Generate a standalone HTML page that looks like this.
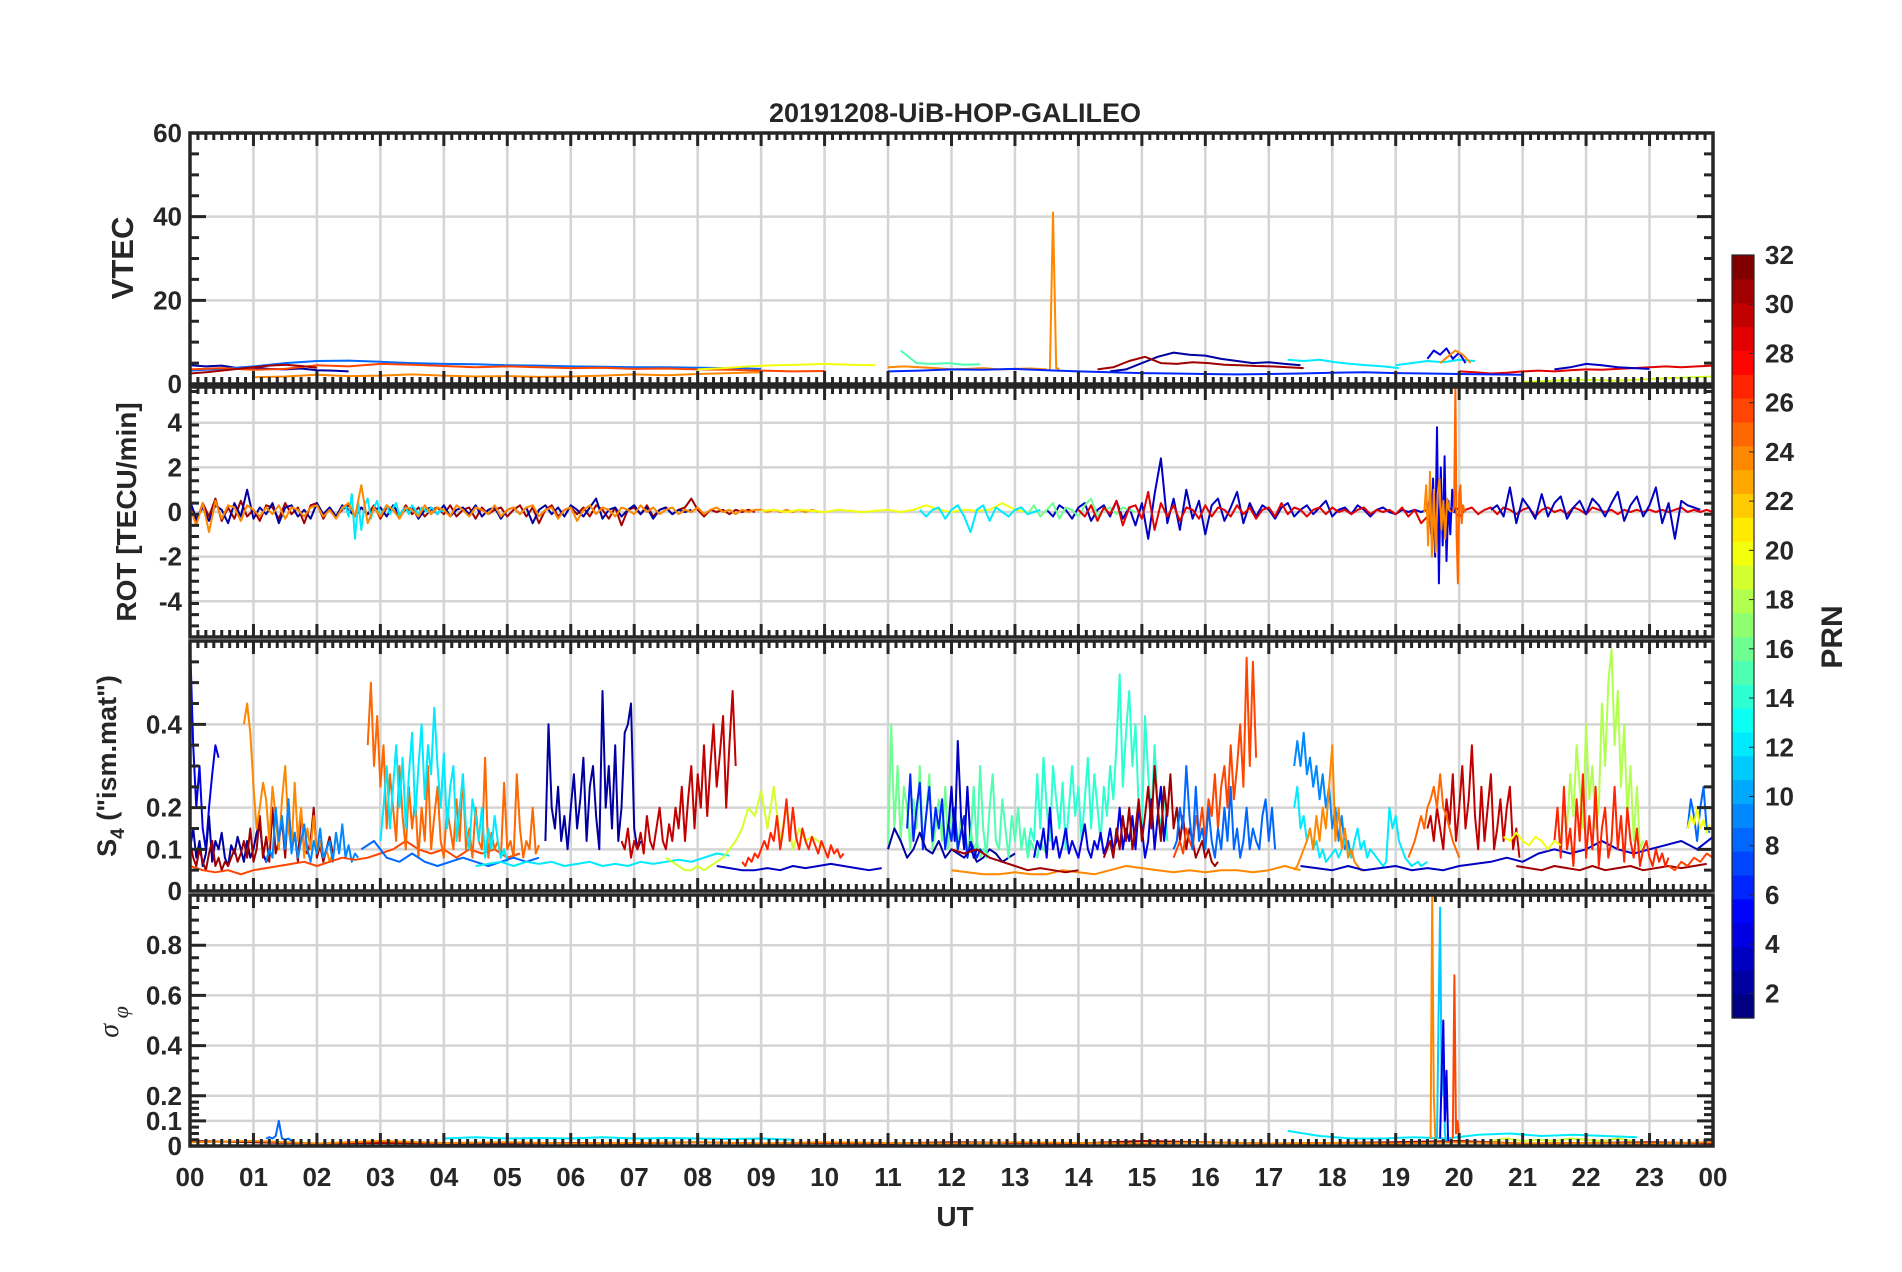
<!DOCTYPE html>
<html><head><meta charset="utf-8">
<style>
html,body{margin:0;padding:0;background:#fff;}
svg{display:block;font-family:"Liberation Sans",Arial,sans-serif;}
</style></head>
<body>
<svg id="fig" width="1902" height="1272" viewBox="0 0 1902 1272" xmlns="http://www.w3.org/2000/svg">
<text x="955" y="122" text-anchor="middle" font-size="27" font-weight="bold" fill="#262626">20191208-UiB-HOP-GALILEO</text>
<text x="955" y="1226" text-anchor="middle" font-size="28" font-weight="bold" fill="#262626">UT</text>
<text transform="translate(133,258) rotate(-90)" text-anchor="middle" font-size="31" font-weight="bold" fill="#262626">VTEC</text>
<text transform="translate(136,512) rotate(-90)" text-anchor="middle" font-size="28" font-weight="bold" fill="#262626">ROT [TECU/min]</text>
<text transform="translate(116,766) rotate(-90)" text-anchor="middle" font-size="27" font-weight="bold" fill="#262626">S<tspan font-size="19" dy="8">4</tspan><tspan dy="-8"> ("ism.mat")</tspan></text>
<text transform="translate(118,1022) rotate(-90)" text-anchor="middle" font-size="28" font-style="italic" font-family="Liberation Serif, serif" fill="#262626">σ<tspan font-size="22" dy="10"> φ</tspan></text>
<text transform="translate(1842,637) rotate(-90)" text-anchor="middle" font-size="30" font-weight="bold" fill="#262626">PRN</text>
<g id="layer"></g>
</svg>
<script>
// ---------- data ----------
const hourLabels = ["00","01","02","03","04","05","06","07","08","09","10","11","12","13","14","15","16","17","18","19","20","21","22","23","00"];
const vtecTicks = [0,20,40,60];
const rotTicks = [-4,-2,0,2,4];
const s4Ticks = [0,0.1,0.2,0.4];
const sigTicks = [0,0.1,0.2,0.4,0.6,0.8];
const cbTicks = [2,4,6,8,10,12,14,16,18,20,22,24,26,28,30,32];

// VTEC series
const vtecPrn = [2,8,26,31,24,20,15,24,24,2,31,12,12,4,24,29,3,19,6];
const vtecStart = [0,0,0,0,1,8,11.2,11,13.55,14.5,14.3,17.3,19,19.5,19.7,20,21.5,21,11];
const vtecStep = [0.25,0.5,0.5,0.25,0.5,0.4,0.25,0.25,0.05,0.25,0.25,0.25,0.25,0.1,0.12,0.25,0.25,0.5,0.5];
const vtecVals = [
[4.5,4.2,4.4,3.8,3.9,3.6,3.5,3.7,3.3,3.2,3.0],
[3.2,3.6,4.2,5.0,5.5,5.6,5.3,5.0,4.8,4.7,4.5,4.4,4.2,4.1,4.0,4.0,3.9,3.8,3.6],
[3.5,3.8,3.4,3.6,4.5,4.2,4.8,4.6,4.3,4.0,4.2,4.0,3.8,3.9,3.6,3.7,3.5,3.4,3.2,3.0,3.1],
[2.5,2.8,3.2,3.6,4.0,4.4,4.6,4.3,3.9],
[1.6,1.8,2.2,1.9,2.0,2.3,2.0,1.8,1.9,1.7,1.8,2.0,2.3,2.1,2.4,2.6,2.8],
[3.5,3.8,4.2,4.5,4.6,4.8,4.6,4.5],
[8,5,4.8,5,4.6,4.7],
[4,4.2,4.0,3.8,3.5,3.6,3.8,3.5,3.6,3.7,3.5],
[3.5,41,3.8,3.6],
[3,3.5,5,6.5,7.5,7,6.8,6,5.5,5,5.2,4.8,4.5],
[3.5,4,5.5,6.5,5,4.8,5.2,5,4.6,4.5,4.3,4.2,4.0,3.8],
[5.8,5.5,5.8,5.2,4.8,4.5,4.2,3.8],
[4.5,5,5.5,5.2,5.8,5.5],
[6,8,7,8.5,6,7.5,5],
[5,6.5,8,7,5],
[3,2.8,2.5,2.7,3.0,3.2,3.0,3.3,3.5,3.4,3.6,3.8,4.0,4.2,4.0,4.2,4.4],
[3.5,4,4.8,4.5,4,3.8,3.6],
[0.5,0.8,1.0,0.8,1.2,1.5,1.8],
[3,3.2,3.5,3.4,3.6,3.3,3.0,2.8,2.6,2.5,2.4,2.3,2.4,2.5,2.7,2.8,2.6,2.5,2.4,2.3,2.2]
];

// ROT series
const rotPrn = [31,2,12,24,3,16,29,3,20,4,24,25,12];
const rotStart = [0,0,2.4,0,13.5,13,14,20.5,9,19.5,19.45,19.9,11.5];
const rotStep = [0.1,0.1,0.05,0.1,0.1,0.1,0.1,0.1,0.2,0.03,0.03,0.02,0.1];
const rotVals = [
[0.3,-0.5,0.4,-0.2,0.6,-0.4,0.2,-0.3,0.5,-0.2,0.1,-0.4,0.3,0.2,-0.3,0.4,-0.1,0.2,-0.5,0.3,0.4,-0.3,0.2,-0.2,0.1,0.3,-0.2,0.2,-0.1,0.3,-0.3,0.2,0.1,-0.2,0.3,-0.1,0.2,-0.2,0.1,0.2,-0.1,0.3,-0.2,0.1,0.2,-0.3,0.2,-0.1,0.1,0.2,-0.2,0.1,0.3,-0.2,0.2,-0.5,0.1,0.3,-0.2,0.1,0.2,-0.1,0.2,-0.2,0.3,0.1,-0.3,0.2,-0.6,0.1,0.2,-0.1,0.3,-0.2,0.1,0.2,-0.1,0.1,0.2,0.6,0.1,-0.2,0.1,0.0,0.1,-0.1,0.1,0.0,0.1,0.0],
[0.5,-0.3,0.2,-0.4,0.3,0.1,-0.5,0.4,-0.2,1.0,-0.3,0.2,-0.1,0.4,-0.5,0.2,0.3,-0.2,0.1,-0.3,0.4,-0.1,0.2,-0.2,0.3,0.1,-0.2,0.2,-0.1,0.1,0.2,-0.2,0.3,-0.1,0.1,0.2,-0.3,0.1,0.2,-0.1,0.3,-0.2,0.1,0.2,-0.1,0.3,-0.2,0.1,0.2,-0.3,0.1,0.2,-0.1,0.2,-0.5,0.1,0.3,-0.1,0.2,-0.2,0.3,0.1,-0.2,0.2,0.6,-0.3,0.1,0.2,-0.2,0.1,0.3,-0.1,0.2,-0.3,0.1,0.2,-0.1,0.1,0.0,0.1],
[0.1,0.3,-0.2,0.8,-1.2,0.5,-0.8,0.3,0.6,-0.3,0.2,0.5,-0.2,0.1,0.3,-0.1,0.2,0.4,-0.2,0.1,0.2,-0.1,0.3,0.1,-0.1,0.2,0.1,0.0,0.2,0.1,-0.1,0.1,0.0],
[0.2,-0.6,0.4,-0.9,0.5,-0.3,0.3,0.2,-0.4,0.3,0.1,-0.2,0.2,-0.1,0.3,-0.3,0.2,0.1,-0.2,0.2,0.3,-0.2,0.1,-0.3,0.2,0.4,-0.2,1.2,-0.5,0.2,-0.2,0.3,0.1,-0.3,0.2,0.1,-0.2,0.3,-0.1,0.2,0.1,-0.2,0.3,0.1,-0.2,0.2,0.1,-0.1,0.3,-0.2,0.1,0.2,-0.1,0.2,0.3,-0.2,0.1,0.2,-0.3,0.1,0.2,-0.4,0.1,0.3,-0.1,0.2,0.1,-0.2,0.2,0.1,-0.1,0.3,0.0,0.2,-0.1,0.1,0.2,-0.1,0.1,0.0,0.2,-0.1,0.1,0.2,0.0,0.1,-0.1,0.1,0.0,0.1,0.1,0.0,0.1,0.0,0.1,0.0,0.1,0.0,0.1,0.0],
[0.1,-0.2,0.3,0.1,-0.3,0.2,0.4,-0.4,0.1,0.3,-0.2,0.5,-0.3,0.2,-0.6,0.4,-1.2,0.8,2.4,-0.5,0.6,-0.8,1.0,-0.3,0.5,-1.0,0.3,0.6,-0.4,0.2,0.9,-0.5,0.4,-0.2,0.3,0.1,-0.3,0.2,0.4,-0.2,0.1,0.3,-0.1,0.2,0.5,-0.2,0.1,0.2,-0.1,0.3,0.1,-0.2,0.1,0.2,0.0,-0.1,0.1,0.0,0.1,0.0,0.1,0.0,0.1,0.0,0.1],
[0.1,0.2,-0.1,0.3,-0.2,0.1,0.4,-0.3,0.2,0.1,-0.2,0.3,0.6,-0.2,0.1,0.2,-0.1,0.2,0.1,0.0],
[0.1,-0.2,0.3,-0.4,0.2,-0.1,0.5,-0.6,0.2,0.3,-0.3,0.9,-0.8,0.4,-0.2,0.3,-0.4,0.2,0.1,-0.3,0.3,-0.2,0.2,0.1,-0.2,0.3,-0.1,0.2,-0.3,0.1,0.2,-0.2,0.4,-0.1,0.2,0.1,-0.2,0.1,0.2,-0.1,0.2,0.0,0.1,-0.1,0.1,0.2,-0.1,0.1,0.0,0.1,-0.1,0.2,-0.2,0.1,-0.5,-0.2,0.4,-0.3,0.2,0.1,-0.2,0.1,0.2,-0.1,0.1,0.2,-0.1,0.2,0.1,-0.1,0.1,0.2,-0.2,0.1,0.2,0.0,0.1,-0.1,0.2,0.1,-0.1,0.2,0.1,0.0,0.1,-0.1,0.1,0.0,0.1,0.0,0.1,0.0,0.1,0.0,0.1,0.2,0.0,0.1,0.0,0.1,0.0],
[0.1,0.3,-0.2,1.1,-0.5,0.6,0.2,-0.3,0.8,-0.2,0.4,0.7,-0.3,0.2,0.5,-0.1,0.6,0.3,-0.2,0.4,0.9,-0.4,0.3,0.7,-0.2,0.3,1.1,-0.5,0.4,-1.2,0.5,0.3,0.2,0.1],
[0.05,0.1,0.0,0.1,0.05,0.0,0.1,0.05,0.0,0.05,0.1,0.0,0.1,0.3,0.1,0.0,0.1,0.05,0.1,0.4,0.1,0.0],
[0.0,0.5,-1.0,1.5,-2.0,3.8,-3.2,2.0,-1.5,2.5,-2.2,0.5,-1.0,1.0,0.0,0.2,0.1],
[0.0,1.2,-1.5,1.8,-2.0,1.0,-1.8,0.8,1.5,-0.8,0.5,-1.2,0.6,0.1,0.0],
[0.0,0.2,5.6,-1.0,-3.2,0.8,1.2,-0.5,0.3,0.1,0.0],
[0.1,-0.2,0.1,0.2,-0.3,0.1,0.3,-0.2,-0.9,0.1,0.3,-0.4,0.2,0.0,-0.2,0.1,0.2,-0.1,0.0,0.1]
];

// S4 series
const s4Prn = [4,2,31,24,9,26,25,12,8,2,30,12,19,27,3,16,6,2,3,14,15,4,31,26,8,9,12,24,24,31,30,25,31,3,18,27,20,26,8,20];
const s4Start = [0,0,0,0.85,1.2,0,2.8,3.0,2.7,5.6,6.8,4.5,7.5,8.7,8.3,11.0,11.3,11.0,11.95,13.2,12.3,13.3,14.4,15.5,15.5,17.4,17.4,17.4,12,12,19.5,19.2,20.9,17.5,21.6,21.5,20.7,23.3,23.6,23.6];
const s4Step = [0.05,0.05,0.05,0.05,0.05,0.2,0.05,0.05,0.2,0.05,0.05,0.2,0.1,0.05,0.2,0.05,0.05,0.1,0.05,0.05,0.05,0.05,0.05,0.05,0.05,0.05,0.05,0.05,0.25,0.2,0.05,0.05,0.2,0.25,0.05,0.05,0.1,0.1,0.05,0.05];
const s4Vals = [
[0.6,0.35,0.2,0.3,0.15,0.1,0.2,0.28,0.35,0.32],
[0.1,0.15,0.08,0.12,0.06,0.09,0.18,0.07,0.12,0.1,0.14,0.08,0.06,0.11,0.09,0.13,0.1,0.07,0.12,0.08,0.1,0.14,0.16,0.09,0.07,0.08],
[0.12,0.08,0.06,0.1,0.07,0.05,0.09,0.12,0.06,0.08,0.05,0.07,0.06,0.08,0.1,0.07,0.09,0.12,0.08,0.15,0.07,0.1,0.18,0.08,0.13,0.07,0.2,0.09,0.12,0.17,0.08,0.22,0.1,0.14,0.07,0.19,0.1,0.09,0.12,0.2,0.08,0.11,0.07,0.1,0.13,0.09],
[0.4,0.45,0.38,0.25,0.15,0.2,0.26,0.22,0.12,0.25,0.18,0.1,0.22,0.3,0.15,0.1,0.26,0.12,0.2,0.08,0.15,0.1,0.18,0.09,0.12,0.08,0.1,0.07,0.09],
[0.07,0.1,0.08,0.2,0.12,0.18,0.1,0.22,0.09,0.14,0.08,0.12,0.16,0.1,0.07,0.12,0.09,0.15,0.08,0.1,0.12,0.07,0.14,0.09,0.16,0.08,0.11,0.07,0.09,0.08],
[0.06,0.05,0.045,0.05,0.04,0.05,0.055,0.06,0.065,0.07,0.06,0.07,0.08,0.075,0.08,0.09,0.1,0.12,0.1,0.09,0.1,0.08,0.1,0.09,0.1,0.08,0.09],
[0.35,0.5,0.3,0.42,0.25,0.35,0.15,0.28,0.2,0.12,0.3,0.18,0.1,0.25,0.15,0.22,0.08,0.2,0.12,0.3,0.1,0.18,0.25,0.12,0.08,0.2,0.15,0.1,0.22,0.12,0.28,0.1,0.15,0.08,0.2,0.12,0.1,0.32,0.08,0.14,0.1,0.12,0.08,0.26,0.1,0.12,0.08,0.28,0.15,0.08,0.12,0.1,0.2,0.09,0.11],
[0.12,0.2,0.3,0.15,0.25,0.35,0.2,0.32,0.15,0.28,0.38,0.18,0.3,0.4,0.22,0.35,0.28,0.44,0.3,0.2,0.33,0.15,0.25,0.3,0.12,0.2,0.28,0.15,0.1,0.22,0.18,0.12,0.2,0.08,0.15,0.1,0.18,0.12,0.08,0.1,0.07],
[0.1,0.12,0.08,0.07,0.09,0.07,0.06,0.07,0.08,0.07,0.06,0.07,0.08,0.07,0.08],
[0.12,0.4,0.2,0.15,0.25,0.12,0.18,0.1,0.2,0.28,0.15,0.22,0.32,0.12,0.25,0.3,0.18,0.1,0.48,0.2,0.3,0.15,0.35,0.12,0.2,0.38,0.4,0.45,0.15,0.1,0.12],
[0.12,0.1,0.15,0.08,0.12,0.1,0.14,0.09,0.18,0.12,0.1,0.15,0.2,0.12,0.1,0.16,0.12,0.2,0.15,0.25,0.12,0.22,0.3,0.15,0.28,0.2,0.35,0.18,0.3,0.4,0.25,0.33,0.42,0.2,0.35,0.48,0.3],
[0.06,0.065,0.07,0.06,0.07,0.065,0.07,0.06,0.065,0.07,0.06,0.065,0.06,0.07,0.065,0.07,0.075,0.07,0.08,0.09,0.085],
[0.08,0.07,0.06,0.05,0.05,0.06,0.05,0.06,0.07,0.08,0.1,0.12,0.15,0.2,0.18,0.24,0.15,0.25,0.12,0.2,0.1,0.15,0.12,0.13,0.12,0.1],
[0.07,0.06,0.08,0.07,0.09,0.08,0.1,0.12,0.1,0.14,0.12,0.18,0.1,0.15,0.22,0.12,0.2,0.13,0.1,0.15,0.12,0.1,0.13,0.11,0.09,0.12,0.1,0.08,0.11,0.09,0.1,0.08,0.09],
[0.06,0.055,0.05,0.05,0.055,0.05,0.06,0.055,0.06,0.065,0.06,0.055,0.05,0.055],
[0.1,0.4,0.15,0.3,0.12,0.25,0.2,0.1,0.22,0.15,0.3,0.12,0.18,0.28,0.1,0.15,0.22,0.12,0.25,0.1,0.2,0.14,0.1,0.18,0.12,0.08,0.15,0.1,0.12,0.08,0.1,0.09,0.08],
[0.15,0.28,0.12,0.2,0.26,0.1,0.18,0.25,0.12,0.2,0.15,0.22,0.1,0.16,0.12,0.2,0.1,0.14,0.18,0.08,0.12,0.1,0.08,0.1,0.09],
[0.1,0.15,0.12,0.08,0.1,0.14,0.1,0.09,0.12,0.08,0.1,0.09,0.08,0.1,0.07,0.08,0.1,0.09,0.07,0.08,0.09],
[0.15,0.25,0.12,0.36,0.18,0.1,0.25,0.12,0.08,0.1],
[0.1,0.15,0.12,0.28,0.15,0.32,0.2,0.12,0.3,0.22,0.15,0.26,0.1,0.2,0.3,0.18,0.25,0.12,0.22,0.32,0.15,0.28,0.2,0.12,0.25,0.18,0.3,0.22,0.35,0.52,0.25,0.38,0.48,0.3,0.4,0.2,0.15,0.42,0.28,0.18,0.35,0.2,0.15,0.25,0.12],
[0.12,0.25,0.1,0.3,0.15,0.08,0.2,0.28,0.12,0.1,0.22,0.15,0.08,0.18,0.12,0.2,0.1,0.15,0.08,0.12,0.1,0.08,0.12,0.1,0.09],
[0.08,0.12,0.1,0.15,0.08,0.2,0.1,0.13,0.08,0.11,0.15,0.09,0.12,0.1,0.08,0.12,0.16,0.1,0.08,0.12,0.1,0.14,0.09,0.11,0.15,0.1,0.12,0.2,0.1,0.15,0.12,0.18,0.1,0.2,0.15,0.08,0.12,0.22,0.1,0.18,0.25,0.12,0.2],
[0.08,0.1,0.12,0.08,0.15,0.1,0.18,0.12,0.2,0.1,0.15,0.22,0.12,0.18,0.25,0.15,0.3,0.2,0.12,0.25,0.18,0.28,0.15,0.2,0.12,0.18,0.1,0.15,0.12,0.08,0.1,0.12,0.08,0.1,0.07,0.06,0.07],
[0.08,0.1,0.12,0.09,0.15,0.12,0.1,0.18,0.14,0.2,0.12,0.22,0.18,0.28,0.15,0.25,0.3,0.2,0.35,0.22,0.3,0.4,0.25,0.56,0.3,0.55,0.32],
[0.1,0.12,0.2,0.15,0.3,0.18,0.1,0.25,0.12,0.15,0.1,0.2,0.12,0.08,0.15,0.1,0.2,0.12,0.25,0.1,0.15,0.08,0.12,0.2,0.1,0.15,0.12,0.1,0.18,0.22,0.12,0.2,0.1],
[0.3,0.36,0.3,0.38,0.28,0.32,0.25,0.3,0.22,0.28,0.2,0.25,0.15,0.2,0.12,0.18,0.1,0.12,0.08],
[0.2,0.25,0.15,0.18,0.12,0.15,0.1,0.12,0.08,0.1,0.07,0.08,0.09,0.1,0.08,0.1,0.12,0.1,0.08,0.12,0.15,0.1,0.12,0.08,0.1,0.09,0.08,0.07,0.06,0.07,0.2,0.15,0.18,0.12,0.1,0.08,0.07,0.06,0.065,0.07,0.06,0.065,0.07],
[0.05,0.06,0.08,0.1,0.12,0.15,0.1,0.18,0.12,0.2,0.15,0.25,0.35,0.12,0.2,0.1,0.15,0.08,0.1,0.07,0.06,0.05,0.05],
[0.05,0.045,0.04,0.04,0.045,0.04,0.04,0.05,0.045,0.04,0.05,0.06,0.055,0.05,0.045,0.05,0.045,0.05,0.05,0.045,0.05,0.06,0.05],
[0.1,0.09,0.1,0.08,0.07,0.06,0.05,0.055,0.05,0.045,0.05],
[0.15,0.18,0.12,0.2,0.15,0.1,0.22,0.16,0.28,0.12,0.2,0.3,0.15,0.22,0.35,0.18,0.1,0.25,0.12,0.2,0.28,0.1,0.15,0.22,0.12,0.2,0.25,0.1,0.15,0.08],
[0.08,0.1,0.12,0.15,0.18,0.15,0.2,0.22,0.25,0.2,0.28,0.2,0.18,0.15,0.12,0.1,0.08],
[0.06,0.055,0.05,0.06,0.055,0.05,0.06,0.05,0.055,0.06,0.05,0.055,0.06,0.055,0.06,0.065],
[0.06,0.055,0.05,0.06,0.05,0.055,0.06,0.05,0.055,0.05,0.06,0.065,0.07,0.08,0.07,0.09,0.1,0.09,0.1,0.12,0.1,0.09,0.1,0.11,0.12,0.1,0.13],
[0.12,0.2,0.15,0.28,0.18,0.35,0.25,0.15,0.4,0.22,0.3,0.15,0.2,0.45,0.3,0.5,0.58,0.35,0.48,0.25,0.4,0.18,0.3,0.12,0.25,0.1,0.12],
[0.12,0.2,0.08,0.25,0.1,0.15,0.06,0.22,0.12,0.28,0.08,0.18,0.1,0.25,0.06,0.15,0.2,0.08,0.12,0.25,0.1,0.18,0.07,0.2,0.12,0.08,0.15,0.06,0.1,0.12,0.08,0.06,0.1,0.07,0.09,0.06,0.08],
[0.13,0.12,0.14,0.12,0.11,0.13,0.12,0.1,0.12,0.11],
[0.06,0.05,0.07,0.06,0.08,0.07,0.09,0.08],
[0.15,0.22,0.18,0.12,0.2,0.25,0.15,0.14],
[0.15,0.18,0.16,0.2,0.15,0.17,0.14,0.16]
];

// sigma-phi series
const sigPrn = [31,12,12,8,24,19,24,11,4,26];
const sigStart = [0,4,17.3,1.2,0,20.5,19.55,19.65,19.7,19.9];
const sigStep = [1,0.5,0.5,0.05,1,0.25,0.025,0.025,0.025,0.025];
const sigVals = [
[0.02,0.015,0.01,0.012,0.01,0.01,0.012,0.01,0.015,0.01,0.012,0.01,0.015,0.012,0.01,0.02,0.015,0.01,0.012,0.015,0.02,0.01,0.012,0.015,0.01],
[0.03,0.035,0.03,0.032,0.03,0.035,0.03,0.032,0.03,0.028,0.03,0.025],
[0.06,0.04,0.03,0.03,0.035,0.03,0.045,0.05,0.04,0.045,0.04,0.035],
[0.03,0.035,0.03,0.04,0.1,0.03,0.025,0.03,0.02],
[0.015,0.02,0.01,0.02,0.012,0.015,0.01,0.012,0.015,0.01,0.015,0.012,0.01,0.015,0.012,0.01,0.015,0.01,0.012,0.01,0.015,0.01,0.012,0.01,0.015],
[0.02,0.03,0.02,0.025,0.02,0.03,0.025,0.02,0.03,0.02],
[0.03,0.99,0.2,0.03,0.02],
[0.03,0.5,0.95,0.2,0.4,0.05,0.02],
[0.03,0.3,0.5,0.1,0.3,0.02],
[0.03,0.68,0.05,0.1,0.02]
];

// ---------- rendering ----------
const NS = "http://www.w3.org/2000/svg";
const layer = document.getElementById('layer');
const X0 = 190, X1 = 1713;
const xs = h => X0 + (X1 - X0) * h / 24;
function jet(p){
  const t = (p - 1) / 31;
  const c = v => Math.round(255 * Math.max(0, Math.min(1, v)));
  return `rgb(${c(1.5-Math.abs(4*t-3))},${c(1.5-Math.abs(4*t-2))},${c(1.5-Math.abs(4*t-1))})`;
}
function mk(tag, attrs, parent){
  const e = document.createElementNS(NS, tag);
  for (const k in attrs) e.setAttribute(k, attrs[k]);
  (parent || layer).appendChild(e);
  return e;
}
const panels = [
 {name:'vtec', top:133, bot:384, min:0, max:60, ticks:vtecTicks, minor:5, minorBelow:null, prn:vtecPrn, start:vtecStart, step:vtecStep, vals:vtecVals},
 {name:'rot', top:387, bot:637, min:-5.6, max:5.6, ticks:rotTicks, minor:0.5, minorBelow:null, prn:rotPrn, start:rotStart, step:rotStep, vals:rotVals},
 {name:'s4', top:641, bot:891, min:0, max:0.6, ticks:s4Ticks, minor:0.05, minorBelow:null, prn:s4Prn, start:s4Start, step:s4Step, vals:s4Vals},
 {name:'sigma-phi', top:895, bot:1146, min:0, max:1.0, ticks:sigTicks, minor:0.05, minorBelow:0.2, prn:sigPrn, start:sigStart, step:sigStep, vals:sigVals}
];
const defs = mk('defs', {});
panels.forEach((P, pi) => {
  const ys = v => P.bot - (P.bot - P.top) * (v - P.min) / (P.max - P.min);
  const g = mk('g', {});
  
  
  const cp = mk('clipPath', {id: 'clip' + pi}, defs);
  mk('rect', {x: X0, y: P.top, width: X1 - X0, height: P.bot - P.top}, cp);
  for (let h = 1; h < 24; h++) {
    const l = mk('line', {x1: xs(h), x2: xs(h), y1: P.top, y2: P.bot, stroke: '#d4d4d4', 'stroke-width': 2.5}, g);
    
    
  }
  P.ticks.forEach(v => {
    if (v <= P.min || v >= P.max) return;
    const l = mk('line', {x1: X0, x2: X1, y1: ys(v), y2: ys(v), stroke: '#d4d4d4', 'stroke-width': 2.5}, g);
    
    
  });
  const sg = mk('g', {'clip-path': `url(#clip${pi})`}, g);
  P.vals.forEach((vals, si) => {
    const pts = vals.map((v, i) => xs(P.start[si] + i * P.step[si]).toFixed(1) + ',' + ys(v).toFixed(1)).join(' ');
    const pl = mk('polyline', {points: pts, fill: 'none', stroke: jet(P.prn[si]), 'stroke-width': 2, 'stroke-linejoin': 'round'}, sg);
    
    
  });
  let td = '';
  for (let k = 0; k <= 24 * 8; k++) {
    const x = xs(k / 8), major = k % 8 === 0, len = major ? 13 : 7;
    td += `M${x},${P.top}v${len}M${x},${P.bot}v${-len}`;
  }
  const eps = 1e-9;
  for (let v = P.min; v <= P.max + eps; v += (P.minorBelow !== null && v < P.minorBelow - eps) ? P.minor / 2 : P.minor) {
    const vv = Math.round(v * 1000) / 1000;
    const isMajor = P.ticks.some(t => Math.abs(t - vv) < 1e-6);
    const len = isMajor ? 16 : 9;
    const y = ys(vv);
    if (y < P.top - 1 || y > P.bot + 1) continue;
    td += `M${X0},${y}h${len}M${X1},${y}h${-len}`;
  }
  const tp = mk('path', {d: td, stroke: '#262626', 'stroke-width': 3, fill: 'none'}, g);
  
  
  const fr = mk('rect', {x: X0, y: P.top, width: X1 - X0, height: P.bot - P.top, fill: 'none', stroke: '#262626', 'stroke-width': 3.5}, g);
  
  
  P.ticks.forEach(v => {
    const t = mk('text', {x: X0 - 8, y: ys(v) + 9, 'text-anchor': 'end', 'font-size': 26, 'font-weight': 'bold', fill: '#262626'}, g);
    t.textContent = String(v);
    
    
  });
});
hourLabels.forEach((lab, i) => {
  const t = mk('text', {x: xs(i), y: 1186, 'text-anchor': 'middle', 'font-size': 26, 'font-weight': 'bold', fill: '#262626'});
  t.textContent = lab;
  
  
});
const CB = {x: 1732, w: 22, top: 255, bot: 1018, min: 1, max: 32};
const cy = v => CB.bot - (CB.bot - CB.top) * (v - CB.min) / (CB.max - CB.min);
const cbg = mk('g', {});


const cellH = (CB.bot - CB.top) / 32;
for (let p = 1; p <= 32; p++) {
  const r = mk('rect', {x: CB.x, y: CB.bot - p * cellH, width: CB.w, height: cellH + 0.6, fill: jet(p)}, cbg);
  
  
}
mk('rect', {x: CB.x, y: CB.top, width: CB.w, height: CB.bot - CB.top, fill: 'none', stroke: '#262626', 'stroke-width': 1.2}, cbg);
cbTicks.forEach(v => {
  mk('line', {x1: CB.x + CB.w - 5, x2: CB.x + CB.w, y1: cy(v), y2: cy(v), stroke: '#262626', 'stroke-width': 1}, cbg);
  const t = mk('text', {x: 1765, y: cy(v) + 9, 'font-size': 26, 'font-weight': 'bold', fill: '#262626'}, cbg);
  t.textContent = v;
  
  
});
</script>
</body></html>
